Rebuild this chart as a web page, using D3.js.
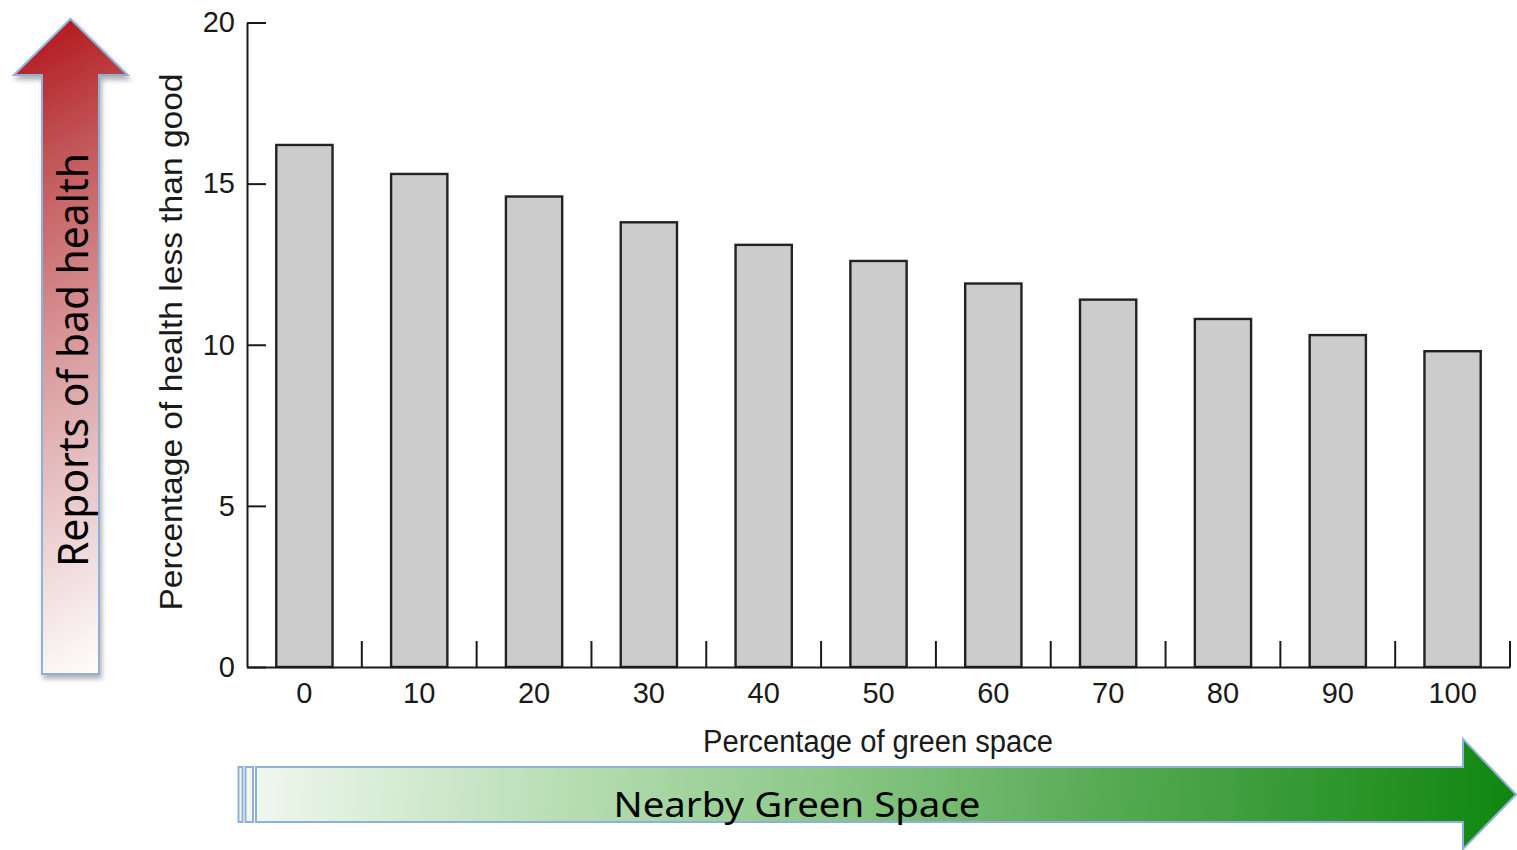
<!DOCTYPE html>
<html>
<head>
<meta charset="utf-8">
<script src="https://cdn.jsdelivr.net/npm/d3@7"></script>
<style>
  html, body { margin: 0; padding: 0; background: #fff; }
  svg { display: block; }
</style>
</head>
<body>
<svg id="chart" width="1517" height="850"></svg>
<script>
// Green-space share (x categories) and share of residents reporting health less than good
const categories = ["0", "10", "20", "30", "40", "50", "60", "70", "80", "90", "100"];
const values = [16.2, 15.3, 14.6, 13.8, 13.1, 12.6, 11.9, 11.4, 10.8, 10.3, 9.8];
const yTicks = [0, 5, 10, 15, 20];

const yTitle = "Percentage of health less than good";
const xTitle = "Percentage of green space";
const upArrowLabel = "Reports of bad health";
const rightArrowLabel = "Nearby Green Space";

const svg = d3.select("#chart");
const defs = svg.append("defs");

// ---- scales ----
const x = d3.scaleBand()
  .domain(categories)
  .range([247, 1510])
  .paddingInner(0.51)
  .paddingOuter(0.255);

const y = d3.scaleLinear()
  .domain([0, 20])
  .range([667, 22.5]);

const baseY = y(0);
const axisFont = "'Liberation Sans', Arial, sans-serif";
const ink = "#1a1a1a";

// ---- bars ----
svg.append("g")
  .selectAll("rect")
  .data(values)
  .join("rect")
  .attr("x", (d, i) => x(categories[i]))
  .attr("y", d => y(d))
  .attr("width", x.bandwidth())
  .attr("height", d => baseY - y(d))
  .attr("fill", "#cccccc")
  .attr("stroke", "#222")
  .attr("stroke-width", 2.4);

// ---- y axis (ticks point inward) ----
const yAxis = svg.append("g")
  .attr("transform", "translate(247,0)")
  .call(d3.axisLeft(y).tickValues(yTicks).tickSizeInner(-19).tickSizeOuter(0).tickPadding(12));
yAxis.selectAll("path, line").attr("stroke", ink).attr("stroke-width", 2);
yAxis.selectAll("text")
  .attr("font-family", axisFont)
  .attr("font-size", 29)
  .attr("fill", ink);

// ---- x axis: baseline, centred labels ----
const xAxis = svg.append("g")
  .attr("transform", `translate(0,${baseY})`)
  .call(d3.axisBottom(x).tickSizeInner(0).tickSizeOuter(0).tickPadding(0));
xAxis.select(".domain").attr("stroke", ink).attr("stroke-width", 2);
xAxis.selectAll("text")
  .attr("y", 36)
  .attr("dy", 0)
  .attr("font-family", axisFont)
  .attr("font-size", 29)
  .attr("fill", ink);

// separator ticks between bar groups
svg.append("g")
  .selectAll("line")
  .data(categories)
  .join("line")
  .attr("x1", d => x(d) + x.bandwidth() + (x.step() - x.bandwidth()) / 2)
  .attr("x2", d => x(d) + x.bandwidth() + (x.step() - x.bandwidth()) / 2)
  .attr("y1", baseY)
  .attr("y2", baseY - 26)
  .attr("stroke", ink)
  .attr("stroke-width", 2);

// ---- axis titles ----
svg.append("text")
  .attr("x", 878)
  .attr("y", 752)
  .attr("text-anchor", "middle")
  .attr("font-family", axisFont)
  .attr("font-size", 31)
  .attr("textLength", 350)
  .attr("lengthAdjust", "spacingAndGlyphs")
  .attr("fill", ink)
  .text(xTitle);

svg.append("text")
  .attr("transform", "translate(182,342) rotate(-90)")
  .attr("text-anchor", "middle")
  .attr("font-family", axisFont)
  .attr("font-size", 31)
  .attr("textLength", 537)
  .attr("lengthAdjust", "spacingAndGlyphs")
  .attr("fill", ink)
  .text(yTitle);

// ---- decorative arrows ----
const shadow = defs.append("filter")
  .attr("id", "softShadow")
  .attr("x", "-20%").attr("y", "-10%")
  .attr("width", "140%").attr("height", "130%");
shadow.append("feDropShadow")
  .attr("dx", 2).attr("dy", 4)
  .attr("stdDeviation", 2.5)
  .attr("flood-color", "#555")
  .attr("flood-opacity", 0.45);

const redGrad = defs.append("linearGradient")
  .attr("id", "redGrad")
  .attr("x1", 0.45).attr("y1", 0).attr("x2", 0.55).attr("y2", 1);
[[0, "#b31b20"], [0.2, "#c25557"], [0.5, "#d99a9c"], [0.8, "#eed6d7"], [1, "#fdfafa"]]
  .forEach(([o, c]) => redGrad.append("stop").attr("offset", o).attr("stop-color", c));

const greenGrad = defs.append("linearGradient")
  .attr("id", "greenGrad")
  .attr("gradientUnits", "userSpaceOnUse")
  .attr("x1", 238).attr("y1", 740).attr("x2", 1517).attr("y2", 850);
[[0, "#f3f9f2"], [0.28, "#b2dbae"], [0.45, "#8ec98a"], [0.68, "#56aa53"], [1, "#0e860e"]]
  .forEach(([o, c]) => greenGrad.append("stop").attr("offset", o).attr("stop-color", c));

const outline = "#8fb1d8";

// upward arrow
const upArrow = [[42, 674], [99, 674], [99, 75], [127.5, 75], [70.5, 19], [14, 75], [42, 75]];
svg.append("path")
  .attr("d", d3.line()(upArrow) + "Z")
  .attr("fill", "url(#redGrad)")
  .attr("stroke", outline)
  .attr("stroke-width", 2)
  .attr("filter", "url(#softShadow)");

svg.append("text")
  .attr("transform", "translate(88,360) rotate(-90)")
  .attr("text-anchor", "middle")
  .attr("font-family", "'Noto Sans', 'DejaVu Sans', sans-serif")
  .attr("font-size", 41)
  .attr("textLength", 414)
  .attr("lengthAdjust", "spacingAndGlyphs")
  .attr("fill", "#000")
  .text(upArrowLabel);

// striped arrow pointing right
const stripes = [[238.5, 4], [245.5, 7.5]];
svg.append("g")
  .selectAll("rect")
  .data(stripes)
  .join("rect")
  .attr("x", d => d[0])
  .attr("y", 767)
  .attr("width", d => d[1])
  .attr("height", 55)
  .attr("fill", "#f1f8f0")
  .attr("stroke", outline)
  .attr("stroke-width", 2);

const rightArrow = [[256, 767], [1463, 767], [1463, 739], [1516, 794.5], [1463, 849], [1463, 822], [256, 822]];
svg.append("path")
  .attr("d", d3.line()(rightArrow) + "Z")
  .attr("fill", "url(#greenGrad)")
  .attr("stroke", outline)
  .attr("stroke-width", 2);

svg.append("text")
  .attr("x", 797)
  .attr("y", 817)
  .attr("text-anchor", "middle")
  .attr("font-family", "'Noto Sans', 'DejaVu Sans', sans-serif")
  .attr("font-size", 35)
  .attr("textLength", 367)
  .attr("lengthAdjust", "spacingAndGlyphs")
  .attr("fill", "#000")
  .text(rightArrowLabel);
</script>
</body>
</html>
